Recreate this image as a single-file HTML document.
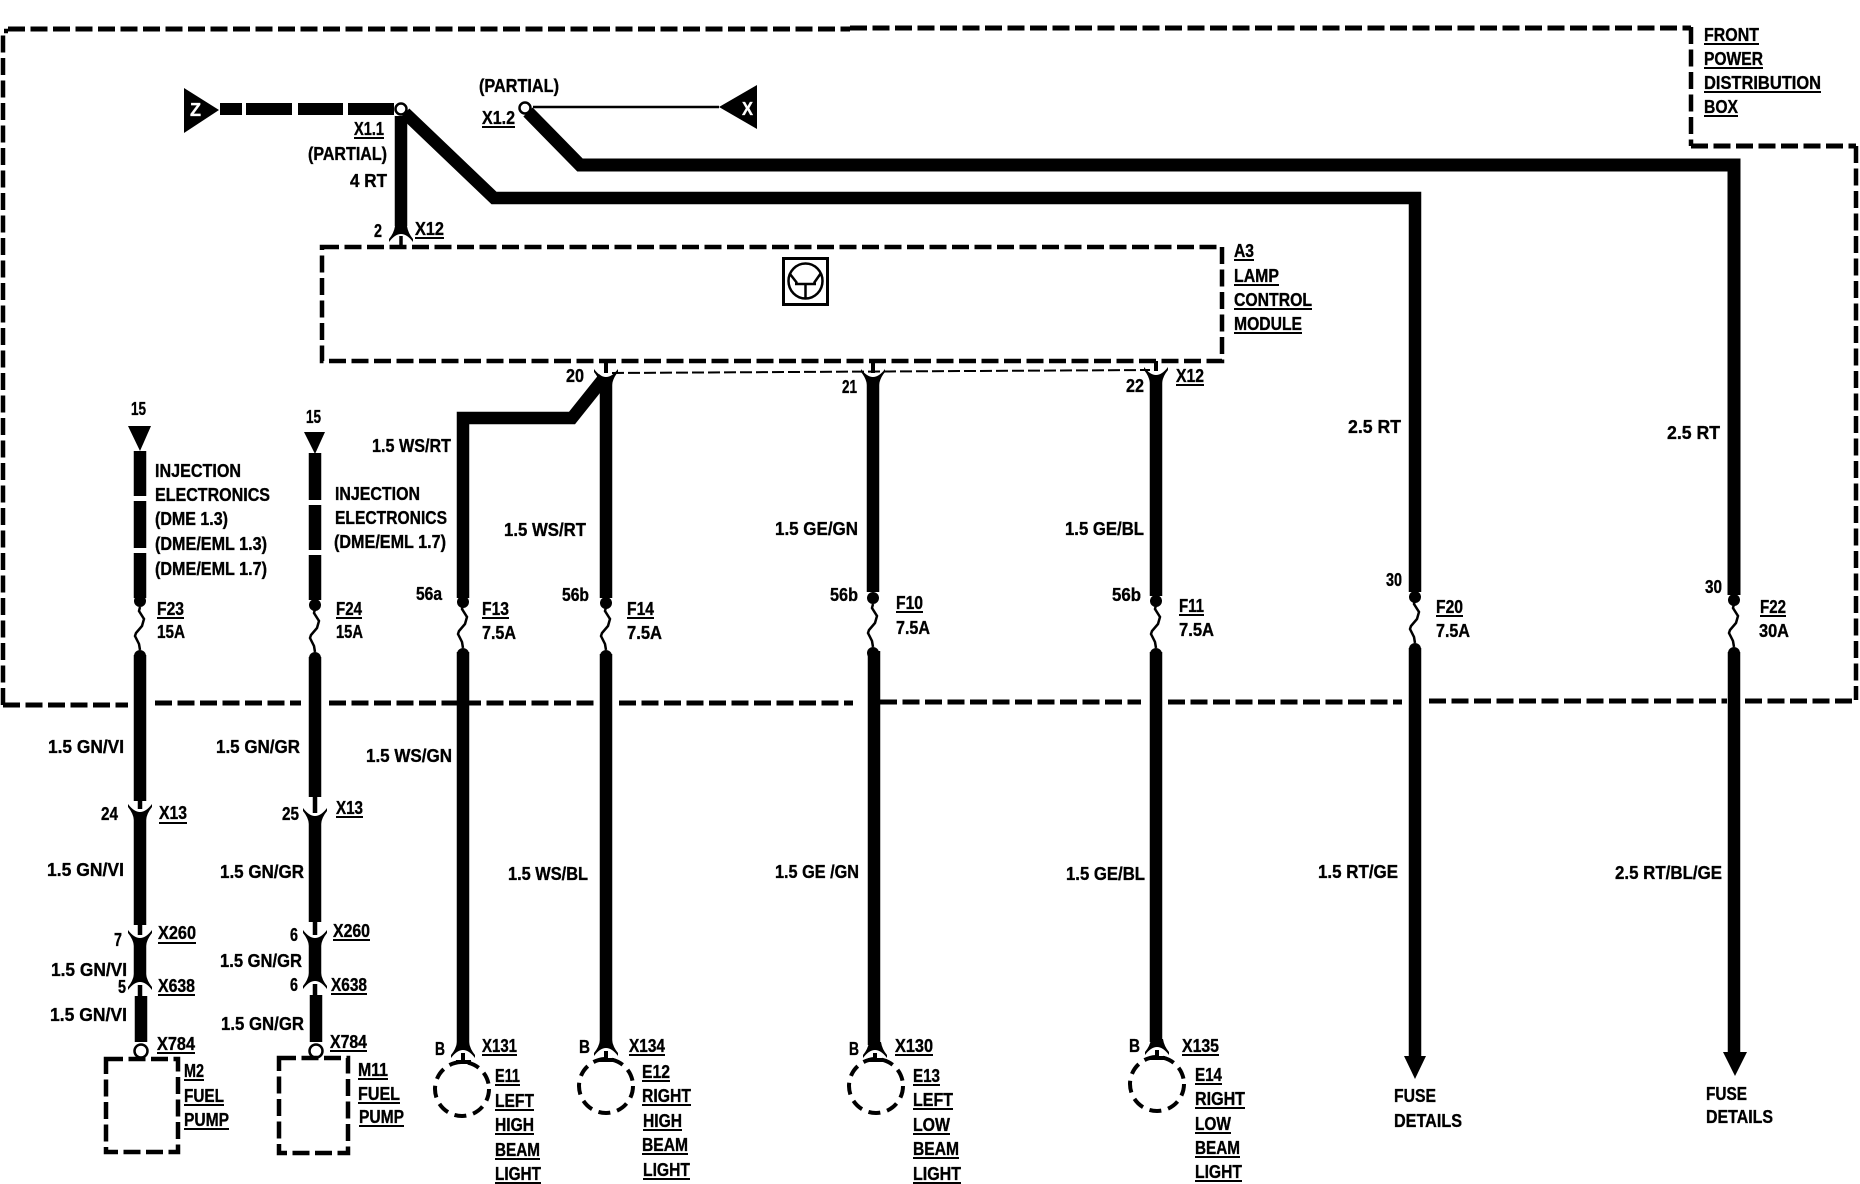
<!DOCTYPE html>
<html><head><meta charset="utf-8"><title>Lamp control wiring diagram</title>
<style>
html,body{margin:0;padding:0;background:#fff}
svg{display:block}
text{font-family:"Liberation Sans",sans-serif;font-weight:bold;font-size:18px;fill:#000;stroke:#000;stroke-width:.35}
.w{fill:none;stroke:#000;stroke-width:12.5;stroke-linejoin:miter}
.s{fill:none;stroke:#000;stroke-width:4.5}
.d{fill:none;stroke:#000;stroke-width:4.5;stroke-dasharray:17 5.5}
.h{fill:none;stroke:#000;stroke-width:5;stroke-dasharray:17 5.5}
.b{fill:none;stroke:#000;stroke-width:4;stroke-dasharray:12 7}
.u{fill:none;stroke:#000;stroke-width:2}
.f{fill:none;stroke:#000;stroke-width:2.5}
</style></head><body>
<svg width="1860" height="1184" viewBox="0 0 1860 1184" xmlns="http://www.w3.org/2000/svg">
<defs>
<path id="c" d="M-12,-4 Q-6,4 0,4 Q6,4 12,-4 L12,-1 Q7,5 6,12 L-6,12 Q-7,5 -12,-1 Z"/>
<path id="f" d="M0,0 l-1,4 l5,8 l-2,7 l-6,7 l-1,3 l4,8 l1,6" class="f"/>
</defs>
<rect width="1860" height="1184" fill="#fff"/>

<!-- outer dashed box -->
<path class="d" d="M3,705 V31 H8"/>
<path class="h" d="M8,29 H850"/>
<path class="h" d="M850,28 H1691"/>
<path class="d" d="M1691,27 V146"/>
<path class="h" d="M1691,146 H1856"/>
<path class="d" d="M1856,146 V700"/>
<path class="h" d="M3,705 H128"/>
<path class="h" d="M155,703 H301"/>
<path class="h" d="M329,703 H596"/>
<path class="h" d="M619,703 H853"/>
<path class="h" d="M880,702 H1141"/>
<path class="h" d="M1168,702 H1402"/>
<path class="h" d="M1429,701 H1727"/>
<path class="h" d="M1745,701 H1856"/>

<!-- A3 box -->
<path class="d" d="M322,247 H1222 V361 H322 Z"/>
<path d="M612,373 L1150,370" fill="none" stroke="#000" stroke-width="2" stroke-dasharray="12 4"/>
<rect x="783.5" y="258.5" width="44" height="46" fill="#fff" stroke="#000" stroke-width="3"/>
<ellipse cx="805.5" cy="281" rx="17" ry="17.5" fill="none" stroke="#000" stroke-width="2.5"/>
<path d="M795,284 H816 M805.5,284 V298 M797,283 L790,274 M814,283 L821,273" fill="none" stroke="#000" stroke-width="2.5"/>

<!-- Z / X terminals -->
<polygon points="184,88 219,110 184,133"/>
<polygon points="719,107 757,85 757,129"/>
<text x="190" y="116" textLength="11" lengthAdjust="spacingAndGlyphs" style="fill:#fff;stroke:#fff">Z</text>
<text x="742" y="115" textLength="11" lengthAdjust="spacingAndGlyphs" style="fill:#fff;stroke:#fff">X</text>
<path class="w" style="stroke-width:12" d="M220,109 H242 M246,109 H292 M298,109 H343 M348,109 H394"/>
<path d="M533,107 H719" fill="none" stroke="#000" stroke-width="2.5"/>

<!-- main wires top -->
<path class="w" d="M401,116 V226"/>
<path class="w" d="M405,113 L494,198 H1415 V592" style="stroke-width:12.5"/>
<path class="w" d="M528,112 L580,165 H1734 V595" style="stroke-width:13"/>
<circle cx="401" cy="109" r="5.5" fill="#fff" stroke="#000" stroke-width="2.5"/>
<circle cx="525" cy="108" r="5.5" fill="#fff" stroke="#000" stroke-width="2.5"/>

<!-- X12 pin 2 -->
<use href="#c" transform="translate(401,238) scale(1,-1)"/>
<path class="u" style="stroke-width:3.5" d="M401,236 V247"/>

<!-- top connectors 20 21 22 -->
<path class="s" style="stroke-width:4" d="M606,361 V373 M873,361 V373 M1156,361 V371"/>
<use href="#c" transform="translate(606,373)"/>
<use href="#c" transform="translate(873,373)"/>
<use href="#c" transform="translate(1156,371)"/>

<!-- F13 branch and lamp wires -->
<path class="w" d="M463,598 V418 H572 L604,378"/>
<path class="w" d="M606,380 V598"/>
<path class="w" d="M873,380 V592"/>
<path class="w" d="M1156,380 V596"/>

<!-- fuse blobs -->
<g>
<circle cx="140" cy="601" r="6"/><circle cx="315" cy="605" r="6"/><circle cx="463" cy="602" r="6"/><circle cx="606" cy="603" r="6"/>
<circle cx="873" cy="598" r="6"/><circle cx="1156" cy="601" r="6"/><circle cx="1415" cy="597" r="6"/><circle cx="1734" cy="600" r="6"/>
<circle cx="140" cy="656" r="6"/><circle cx="315" cy="658" r="6"/><circle cx="463" cy="654" r="6"/><circle cx="606" cy="656" r="6"/>
<circle cx="873" cy="653" r="6"/><circle cx="1156" cy="654" r="6"/><circle cx="1415" cy="649" r="6"/><circle cx="1734" cy="653" r="6"/>
</g>
<use href="#f" transform="translate(140,607)"/>
<use href="#f" transform="translate(315,609)"/>
<use href="#f" transform="translate(463,605)"/>
<use href="#f" transform="translate(606,607)"/>
<use href="#f" transform="translate(873,604)"/>
<use href="#f" transform="translate(1156,605)"/>
<use href="#f" transform="translate(1415,600)"/>
<use href="#f" transform="translate(1734,604)"/>

<!-- F23 column -->
<polygon points="128,426 151,426 140,451"/>
<path class="w" d="M140,451 V496 M140,501 V548 M140,553 V598 M140,655 V801"/>
<path class="s" d="M140,800 V809 M140,925 V935 M140,985 V997"/>
<use href="#c" transform="translate(140,808)"/>
<path class="w" d="M140,816 V925"/>
<use href="#c" transform="translate(140,934)"/>
<path class="w" d="M140,942 V980"/>
<use href="#c" transform="translate(140,986) scale(1,-1)"/>
<path class="w" d="M141,996 V1042"/>
<circle cx="141" cy="1051" r="6.5" fill="#fff" stroke="#000" stroke-width="2.5"/>

<!-- F24 column -->
<polygon points="304,432 325,432 315,454"/>
<path class="w" d="M315,453 V500 M315,505 V550 M315,555 V600 M315,657 V797"/>
<path class="s" d="M315,796 V813 M315,921 V935 M315,984 V996"/>
<use href="#c" transform="translate(315,812)"/>
<path class="w" d="M315,820 V922"/>
<use href="#c" transform="translate(315,934)"/>
<path class="w" d="M315,942 V979"/>
<use href="#c" transform="translate(315,985) scale(1,-1)"/>
<path class="w" d="M316,995 V1042"/>
<circle cx="316" cy="1051" r="6.5" fill="#fff" stroke="#000" stroke-width="2.5"/>

<!-- fuel pumps -->
<path class="d" d="M106,1059 H178 V1152 H106 Z"/>
<path class="d" d="M279,1058 H348 V1153 H279 Z"/>

<!-- lower lamp wires -->
<path class="w" d="M463,652 V1045"/>
<path class="w" d="M606,654 V1043"/>
<path class="w" d="M874,651 V1045"/>
<path class="w" d="M1156,652 V1042"/>
<use href="#c" transform="translate(463,1054) scale(1,-1)"/>
<use href="#c" transform="translate(606,1052) scale(1,-1)"/>
<use href="#c" transform="translate(875,1054) scale(1,-1)"/>
<use href="#c" transform="translate(1157,1051) scale(1,-1)"/>
<path class="s" style="stroke-width:4" d="M463,1053 V1062 M606,1051 V1060 M875,1053 V1062 M1157,1050 V1059"/>
<path class="s" style="stroke-width:4" d="M456,1062 H471 M599,1060 H614 M868,1060 H883 M1150,1058 H1165"/>
<ellipse class="b" cx="462" cy="1089" rx="27" ry="27"/>
<ellipse class="b" cx="606" cy="1086" rx="27" ry="27"/>
<ellipse class="b" cx="876" cy="1086" rx="27" ry="27"/>
<ellipse class="b" cx="1157" cy="1084" rx="27" ry="27"/>

<!-- fuse details wires -->
<path class="w" d="M1415,648 V1058"/>
<path class="w" d="M1734,652 V1054"/>
<polygon points="1404,1056 1426,1056 1415,1079"/>
<polygon points="1723,1052 1747,1052 1735,1076"/>

<!-- labels -->
<g>
<text x="479" y="92" textLength="80" lengthAdjust="spacingAndGlyphs">(PARTIAL)</text>
<text x="482" y="124" textLength="33" lengthAdjust="spacingAndGlyphs">X1.2</text>
<text x="354" y="135" textLength="30" lengthAdjust="spacingAndGlyphs">X1.1</text>
<text x="308" y="160" textLength="79" lengthAdjust="spacingAndGlyphs">(PARTIAL)</text>
<text x="350" y="187" textLength="37" lengthAdjust="spacingAndGlyphs">4 RT</text>
<text x="374" y="237" textLength="8" lengthAdjust="spacingAndGlyphs">2</text>
<text x="415" y="235" textLength="29" lengthAdjust="spacingAndGlyphs">X12</text>
<text x="566" y="382" textLength="18" lengthAdjust="spacingAndGlyphs">20</text>
<text x="842" y="393" textLength="15" lengthAdjust="spacingAndGlyphs">21</text>
<text x="1126" y="392" textLength="18" lengthAdjust="spacingAndGlyphs">22</text>
<text x="1176" y="382" textLength="28" lengthAdjust="spacingAndGlyphs">X12</text>

<text x="1704" y="41" textLength="55" lengthAdjust="spacingAndGlyphs">FRONT</text>
<text x="1704" y="65" textLength="59" lengthAdjust="spacingAndGlyphs">POWER</text>
<text x="1704" y="89" textLength="117" lengthAdjust="spacingAndGlyphs">DISTRIBUTION</text>
<text x="1704" y="113" textLength="34" lengthAdjust="spacingAndGlyphs">BOX</text>
<text x="1234" y="257" textLength="20" lengthAdjust="spacingAndGlyphs">A3</text>
<text x="1234" y="282" textLength="45" lengthAdjust="spacingAndGlyphs">LAMP</text>
<text x="1234" y="306" textLength="78" lengthAdjust="spacingAndGlyphs">CONTROL</text>
<text x="1234" y="330" textLength="68" lengthAdjust="spacingAndGlyphs">MODULE</text>

<text x="131" y="415" textLength="15" lengthAdjust="spacingAndGlyphs">15</text>
<text x="306" y="423" textLength="15" lengthAdjust="spacingAndGlyphs">15</text>
<text x="155" y="477" textLength="86" lengthAdjust="spacingAndGlyphs">INJECTION</text>
<text x="155" y="501" textLength="115" lengthAdjust="spacingAndGlyphs">ELECTRONICS</text>
<text x="155" y="525" textLength="73" lengthAdjust="spacingAndGlyphs">(DME 1.3)</text>
<text x="155" y="550" textLength="112" lengthAdjust="spacingAndGlyphs">(DME/EML 1.3)</text>
<text x="155" y="575" textLength="112" lengthAdjust="spacingAndGlyphs">(DME/EML 1.7)</text>
<text x="335" y="500" textLength="85" lengthAdjust="spacingAndGlyphs">INJECTION</text>
<text x="335" y="524" textLength="112" lengthAdjust="spacingAndGlyphs">ELECTRONICS</text>
<text x="334" y="548" textLength="112" lengthAdjust="spacingAndGlyphs">(DME/EML 1.7)</text>
<text x="372" y="452" textLength="79" lengthAdjust="spacingAndGlyphs">1.5 WS/RT</text>
<text x="504" y="536" textLength="82" lengthAdjust="spacingAndGlyphs">1.5 WS/RT</text>
<text x="775" y="535" textLength="83" lengthAdjust="spacingAndGlyphs">1.5 GE/GN</text>
<text x="1065" y="535" textLength="79" lengthAdjust="spacingAndGlyphs">1.5 GE/BL</text>
<text x="1348" y="433" textLength="53" lengthAdjust="spacingAndGlyphs">2.5 RT</text>
<text x="1667" y="439" textLength="53" lengthAdjust="spacingAndGlyphs">2.5 RT</text>

<text x="416" y="600" textLength="26" lengthAdjust="spacingAndGlyphs">56a</text>
<text x="562" y="601" textLength="27" lengthAdjust="spacingAndGlyphs">56b</text>
<text x="830" y="601" textLength="28" lengthAdjust="spacingAndGlyphs">56b</text>
<text x="1112" y="601" textLength="29" lengthAdjust="spacingAndGlyphs">56b</text>
<text x="1386" y="586" textLength="16" lengthAdjust="spacingAndGlyphs">30</text>
<text x="1705" y="593" textLength="17" lengthAdjust="spacingAndGlyphs">30</text>

<text x="157" y="615" textLength="27" lengthAdjust="spacingAndGlyphs">F23</text>
<text x="157" y="638" textLength="28" lengthAdjust="spacingAndGlyphs">15A</text>
<text x="336" y="615" textLength="26" lengthAdjust="spacingAndGlyphs">F24</text>
<text x="336" y="638" textLength="27" lengthAdjust="spacingAndGlyphs">15A</text>
<text x="482" y="615" textLength="27" lengthAdjust="spacingAndGlyphs">F13</text>
<text x="482" y="639" textLength="34" lengthAdjust="spacingAndGlyphs">7.5A</text>
<text x="627" y="615" textLength="27" lengthAdjust="spacingAndGlyphs">F14</text>
<text x="627" y="639" textLength="35" lengthAdjust="spacingAndGlyphs">7.5A</text>
<text x="896" y="609" textLength="27" lengthAdjust="spacingAndGlyphs">F10</text>
<text x="896" y="634" textLength="34" lengthAdjust="spacingAndGlyphs">7.5A</text>
<text x="1179" y="612" textLength="25" lengthAdjust="spacingAndGlyphs">F11</text>
<text x="1179" y="636" textLength="35" lengthAdjust="spacingAndGlyphs">7.5A</text>
<text x="1436" y="613" textLength="27" lengthAdjust="spacingAndGlyphs">F20</text>
<text x="1436" y="637" textLength="34" lengthAdjust="spacingAndGlyphs">7.5A</text>
<text x="1760" y="613" textLength="26" lengthAdjust="spacingAndGlyphs">F22</text>
<text x="1759" y="637" textLength="30" lengthAdjust="spacingAndGlyphs">30A</text>

<text x="48" y="753" textLength="76" lengthAdjust="spacingAndGlyphs">1.5 GN/VI</text>
<text x="216" y="753" textLength="84" lengthAdjust="spacingAndGlyphs">1.5 GN/GR</text>
<text x="366" y="762" textLength="86" lengthAdjust="spacingAndGlyphs">1.5 WS/GN</text>
<text x="101" y="820" textLength="17" lengthAdjust="spacingAndGlyphs">24</text>
<text x="159" y="819" textLength="28" lengthAdjust="spacingAndGlyphs">X13</text>
<text x="282" y="820" textLength="17" lengthAdjust="spacingAndGlyphs">25</text>
<text x="336" y="814" textLength="27" lengthAdjust="spacingAndGlyphs">X13</text>
<text x="47" y="876" textLength="77" lengthAdjust="spacingAndGlyphs">1.5 GN/VI</text>
<text x="220" y="878" textLength="84" lengthAdjust="spacingAndGlyphs">1.5 GN/GR</text>
<text x="508" y="880" textLength="80" lengthAdjust="spacingAndGlyphs">1.5 WS/BL</text>
<text x="775" y="878" textLength="84" lengthAdjust="spacingAndGlyphs">1.5 GE /GN</text>
<text x="1066" y="880" textLength="79" lengthAdjust="spacingAndGlyphs">1.5 GE/BL</text>
<text x="1318" y="878" textLength="80" lengthAdjust="spacingAndGlyphs">1.5 RT/GE</text>
<text x="1615" y="879" textLength="107" lengthAdjust="spacingAndGlyphs">2.5 RT/BL/GE</text>

<text x="158" y="939" textLength="38" lengthAdjust="spacingAndGlyphs">X260</text>
<text x="114" y="946" textLength="8" lengthAdjust="spacingAndGlyphs">7</text>
<text x="333" y="937" textLength="37" lengthAdjust="spacingAndGlyphs">X260</text>
<text x="290" y="941" textLength="8" lengthAdjust="spacingAndGlyphs">6</text>
<text x="51" y="976" textLength="76" lengthAdjust="spacingAndGlyphs">1.5 GN/VI</text>
<text x="220" y="967" textLength="82" lengthAdjust="spacingAndGlyphs">1.5 GN/GR</text>
<text x="118" y="993" textLength="8" lengthAdjust="spacingAndGlyphs">5</text>
<text x="158" y="992" textLength="37" lengthAdjust="spacingAndGlyphs">X638</text>
<text x="290" y="991" textLength="8" lengthAdjust="spacingAndGlyphs">6</text>
<text x="331" y="991" textLength="36" lengthAdjust="spacingAndGlyphs">X638</text>
<text x="50" y="1021" textLength="77" lengthAdjust="spacingAndGlyphs">1.5 GN/VI</text>
<text x="221" y="1030" textLength="83" lengthAdjust="spacingAndGlyphs">1.5 GN/GR</text>
<text x="157" y="1050" textLength="38" lengthAdjust="spacingAndGlyphs">X784</text>
<text x="330" y="1048" textLength="37" lengthAdjust="spacingAndGlyphs">X784</text>

<text x="184" y="1077" textLength="20" lengthAdjust="spacingAndGlyphs">M2</text>
<text x="184" y="1102" textLength="40" lengthAdjust="spacingAndGlyphs">FUEL</text>
<text x="184" y="1126" textLength="45" lengthAdjust="spacingAndGlyphs">PUMP</text>
<text x="358" y="1076" textLength="30" lengthAdjust="spacingAndGlyphs">M11</text>
<text x="358" y="1100" textLength="42" lengthAdjust="spacingAndGlyphs">FUEL</text>
<text x="359" y="1123" textLength="45" lengthAdjust="spacingAndGlyphs">PUMP</text>

<text x="435" y="1055" textLength="10" lengthAdjust="spacingAndGlyphs">B</text>
<text x="482" y="1052" textLength="35" lengthAdjust="spacingAndGlyphs">X131</text>
<text x="495" y="1082" textLength="25" lengthAdjust="spacingAndGlyphs">E11</text>
<text x="495" y="1107" textLength="39" lengthAdjust="spacingAndGlyphs">LEFT</text>
<text x="495" y="1131" textLength="39" lengthAdjust="spacingAndGlyphs">HIGH</text>
<text x="495" y="1156" textLength="45" lengthAdjust="spacingAndGlyphs">BEAM</text>
<text x="495" y="1180" textLength="46" lengthAdjust="spacingAndGlyphs">LIGHT</text>

<text x="579" y="1053" textLength="11" lengthAdjust="spacingAndGlyphs">B</text>
<text x="629" y="1052" textLength="36" lengthAdjust="spacingAndGlyphs">X134</text>
<text x="642" y="1078" textLength="28" lengthAdjust="spacingAndGlyphs">E12</text>
<text x="642" y="1102" textLength="49" lengthAdjust="spacingAndGlyphs">RIGHT</text>
<text x="643" y="1127" textLength="39" lengthAdjust="spacingAndGlyphs">HIGH</text>
<text x="642" y="1151" textLength="46" lengthAdjust="spacingAndGlyphs">BEAM</text>
<text x="643" y="1176" textLength="47" lengthAdjust="spacingAndGlyphs">LIGHT</text>

<text x="849" y="1055" textLength="10" lengthAdjust="spacingAndGlyphs">B</text>
<text x="895" y="1052" textLength="38" lengthAdjust="spacingAndGlyphs">X130</text>
<text x="913" y="1082" textLength="27" lengthAdjust="spacingAndGlyphs">E13</text>
<text x="913" y="1106" textLength="40" lengthAdjust="spacingAndGlyphs">LEFT</text>
<text x="913" y="1131" textLength="37" lengthAdjust="spacingAndGlyphs">LOW</text>
<text x="913" y="1155" textLength="46" lengthAdjust="spacingAndGlyphs">BEAM</text>
<text x="913" y="1180" textLength="48" lengthAdjust="spacingAndGlyphs">LIGHT</text>

<text x="1129" y="1052" textLength="11" lengthAdjust="spacingAndGlyphs">B</text>
<text x="1182" y="1052" textLength="37" lengthAdjust="spacingAndGlyphs">X135</text>
<text x="1195" y="1081" textLength="27" lengthAdjust="spacingAndGlyphs">E14</text>
<text x="1195" y="1105" textLength="50" lengthAdjust="spacingAndGlyphs">RIGHT</text>
<text x="1195" y="1130" textLength="36" lengthAdjust="spacingAndGlyphs">LOW</text>
<text x="1195" y="1154" textLength="45" lengthAdjust="spacingAndGlyphs">BEAM</text>
<text x="1195" y="1178" textLength="47" lengthAdjust="spacingAndGlyphs">LIGHT</text>

<text x="1394" y="1102" textLength="42" lengthAdjust="spacingAndGlyphs">FUSE</text>
<text x="1394" y="1127" textLength="68" lengthAdjust="spacingAndGlyphs">DETAILS</text>
<text x="1706" y="1100" textLength="41" lengthAdjust="spacingAndGlyphs">FUSE</text>
<text x="1706" y="1123" textLength="67" lengthAdjust="spacingAndGlyphs">DETAILS</text>
</g>

<!-- underlines -->
<path class="u" d="M482,127 H515 M354,138 H384 M415,238 H444 M1176,385 H1204
M1704,44 H1759 M1704,68 H1763 M1704,92 H1821 M1704,116 H1738
M1234,260 H1254 M1234,285 H1279 M1234,309 H1312 M1234,333 H1302
M157,618 H184 M336,618 H362 M482,618 H509 M627,618 H654 M896,612 H923 M1179,615 H1204 M1436,616 H1463 M1760,616 H1786
M159,823 H187 M336,817 H363 M158,943 H196 M333,940 H370 M158,995 H195 M331,994 H367 M157,1053 H195 M330,1051 H367
M184,1080 H204 M184,1105 H224 M184,1129 H229 M358,1079 H388 M358,1103 H400 M359,1126 H404
M482,1055 H517 M495,1085 H520 M495,1110 H534 M495,1134 H534 M495,1159 H540 M495,1183 H541
M629,1055 H665 M642,1081 H670 M642,1105 H691 M643,1130 H682 M642,1154 H688 M643,1179 H690
M895,1055 H933 M913,1085 H940 M913,1109 H953 M913,1134 H950 M913,1158 H959 M913,1183 H961
M1182,1055 H1219 M1195,1084 H1222 M1195,1108 H1245 M1195,1133 H1231 M1195,1157 H1240 M1195,1181 H1242"/>
</svg>
</body></html>
